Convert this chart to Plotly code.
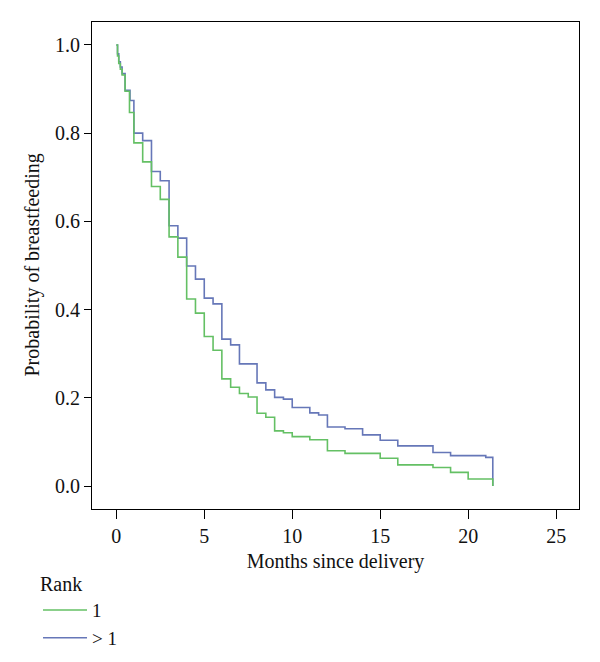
import plotly.graph_objects as go

# Kaplan-Meier estimates (months since delivery, probability)
rank1_months = [0, 0.07, 0.14, 0.23, 0.33, 0.5, 0.75, 1.0, 1.5, 2.0, 2.5, 3.0, 3.5, 4.0, 4.5,
                5.0, 5.5, 6.0, 6.5, 7.0, 7.5, 8.0, 8.5, 9.0, 9.5, 10.0, 11.0, 12.0, 13.0,
                15.0, 16.0, 18.0, 19.0, 20.0, 21.4]
rank1_surv = [1.0, 0.975, 0.958, 0.945, 0.932, 0.895, 0.847, 0.778, 0.735, 0.679, 0.650, 0.565,
              0.519, 0.424, 0.392, 0.339, 0.308, 0.243, 0.224, 0.210, 0.202, 0.165, 0.156,
              0.125, 0.121, 0.112, 0.105, 0.080, 0.074, 0.063, 0.048, 0.042, 0.031, 0.016, 0.0]

rank2_months = [0, 0.07, 0.14, 0.23, 0.33, 0.5, 0.78, 1.0, 1.5, 2.0, 2.5, 3.0, 3.5, 4.0, 4.5,
                5.0, 5.5, 6.0, 6.5, 7.0, 8.0, 8.5, 9.0, 9.5, 10.0, 11.0, 11.5, 12.0, 13.0,
                14.0, 15.0, 16.0, 18.0, 19.0, 21.0, 21.4]
rank2_surv = [1.0, 0.98, 0.962, 0.95, 0.935, 0.897, 0.874, 0.800, 0.783, 0.713, 0.692, 0.590,
              0.562, 0.499, 0.469, 0.426, 0.413, 0.333, 0.320, 0.277, 0.234, 0.218, 0.201,
              0.197, 0.178, 0.166, 0.161, 0.134, 0.130, 0.116, 0.104, 0.091, 0.076, 0.069,
              0.065, 0.0]

x_ticks = [0, 5, 10, 15, 20, 25]
y_ticks = [0.0, 0.2, 0.4, 0.6, 0.8, 1.0]
x_title = "Months since delivery"
y_title = "Probability of breastfeeding"
legend_title = "Rank"
series_names = ["1", "> 1"]

GREEN = "#64c064"
BLUE = "#6677b8"
FONT = "Liberation Serif"

fig = go.Figure()
fig.add_trace(go.Scatter(x=rank2_months, y=rank2_surv, mode="lines", name=series_names[1],
                         line=dict(shape="hv", color=BLUE, width=1.6), legendrank=2))
fig.add_trace(go.Scatter(x=rank1_months, y=rank1_surv, mode="lines", name=series_names[0],
                         line=dict(shape="hv", color=GREEN, width=1.6), legendrank=1))

# the page adds an 8px body margin, so the figure is sized 16px smaller
fig.update_layout(
    width=584, height=646,
    margin=dict(l=84, r=13, t=14, b=145, autoexpand=False),
    paper_bgcolor="white", plot_bgcolor="white",
    font=dict(family=FONT, size=20, color="#111"),
    showlegend=True,
    legend=dict(
        title=dict(text=legend_title, font=dict(family=FONT, size=20), side="top"),
        xref="container", yref="container",
        x=0.0514, xanchor="left", y=0.1375, yanchor="top",
        orientation="v", traceorder="normal",
        itemwidth=44, bgcolor="rgba(0,0,0,0)",
        font=dict(family=FONT, size=19),
    ),
    annotations=[dict(
        text=y_title, textangle=-90, showarrow=False,
        xref="paper", yref="paper", x=-0.1232, y=0.5,
        xanchor="center", yanchor="middle",
        font=dict(family=FONT, size=20, color="#111"),
    )],
)
fig.update_xaxes(
    range=[-1.381, 26.30], tickvals=x_ticks, ticks="outside", ticklen=9, tickwidth=1,
    tickcolor="black", showline=True, linecolor="black", linewidth=1, mirror=True,
    showgrid=False, zeroline=False,
    title=dict(text=x_title, font=dict(family=FONT, size=20), standoff=7),
)
fig.update_yaxes(
    range=[-0.052, 1.052], tickvals=y_ticks, tickformat=".1f", ticks="outside", ticklen=7,
    tickwidth=1, tickcolor="black", showline=True, linecolor="black", linewidth=1,
    mirror=True, showgrid=False, zeroline=False, automargin=False,
)

fig.write_html("out.html")
